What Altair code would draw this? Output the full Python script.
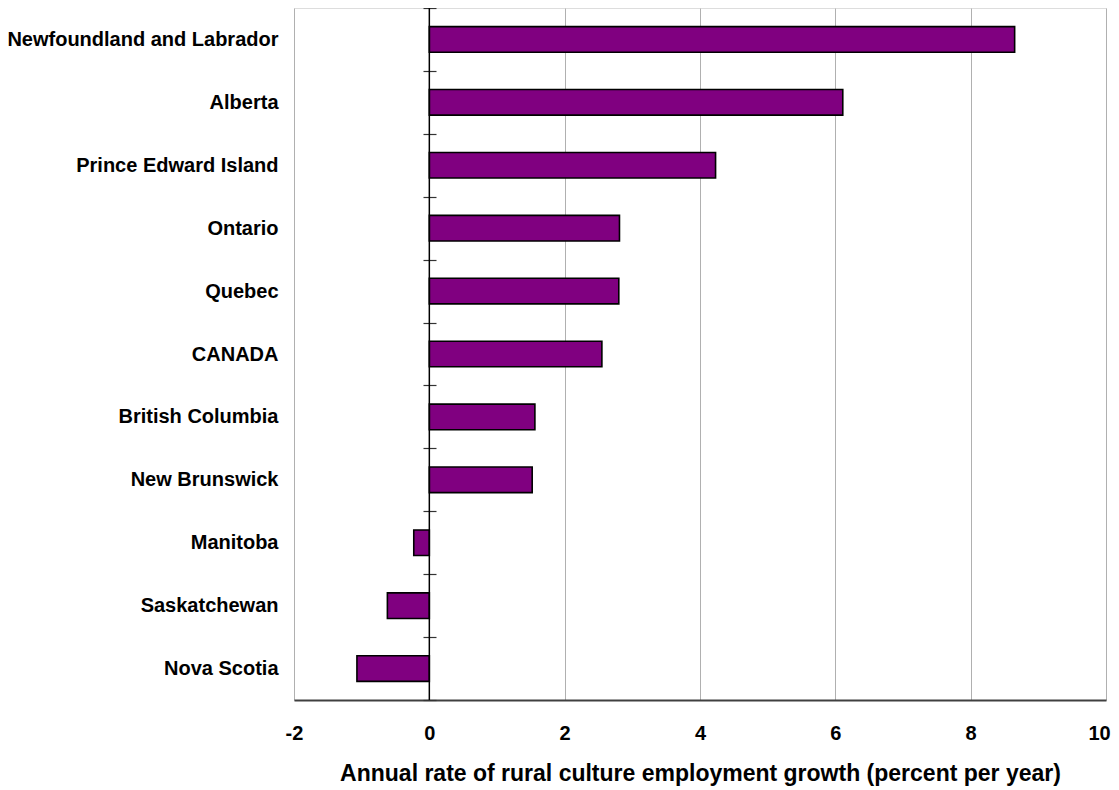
import altair as alt
import pandas as pd

provinces = ["Newfoundland and Labrador", "Alberta", "Prince Edward Island", "Ontario",
             "Quebec", "CANADA", "British Columbia", "New Brunswick", "Manitoba",
             "Saskatchewan", "Nova Scotia"]
growth = [8.65, 6.11, 4.23, 2.81, 2.80, 2.55, 1.56, 1.52, -0.23, -0.62, -1.07]
x_ticks = [-2, 0, 2, 4, 6, 8, 10]

df = pd.DataFrame({"province": provinces, "growth": growth})
FONT = "Liberation Sans"

xscale = alt.Scale(domain=[-2, 10], nice=False, zero=False)

bars = alt.Chart(df).mark_bar(
    color="#800080", stroke="black", strokeWidth=1.6, size=25.6
).encode(
    x=alt.X("growth:Q", scale=xscale,
            axis=alt.Axis(values=x_ticks, grid=True, gridColor="#b0b0b0", gridWidth=1,
                          ticks=False, domainColor="#404040", domainWidth=2,
                          labelExpr="'' + datum.value", labelFlush=False,
                          labelOverlap=False,
                          labelOffset={"condition": {"test": "datum.value == 10", "value": -7},
                                       "value": 0},
                          labelFont=FONT, labelFontSize=20, labelFontWeight="bold",
                          labelColor="black", labelPadding=23,
                          title="Annual rate of rural culture employment growth (percent per year)",
                          titleFont=FONT, titleFontSize=23, titleFontWeight="bold",
                          titleColor="black", titlePadding=19)),
    y=alt.Y("province:N", sort=provinces,
            scale=alt.Scale(paddingInner=0, paddingOuter=0),
            axis=alt.Axis(title=None, domain=False, ticks=True, tickSize=13,
                          tickColor="#333333", tickWidth=1.2, tickBand="extent",
                          offset=-142, labelPadding=145, labelLimit=0, labelFont=FONT,
                          labelFontSize=20, labelFontWeight="bold", labelColor="black"))
)

zero = alt.Chart(pd.DataFrame({"z": [0]})).mark_rule(color="black", strokeWidth=1.5).encode(
    x=alt.X("z:Q", scale=xscale)
)

chart = alt.layer(bars, zero).properties(
    width=812, height=692,
    autosize=alt.AutoSizeParams(type="none"),
    padding={"left": 286, "top": 0, "right": 5, "bottom": 86}
).configure_view(stroke="#909090", strokeWidth=1.5).configure(background="white")

chart.save("out.html", embed_options={"renderer": "svg", "actions": False})
